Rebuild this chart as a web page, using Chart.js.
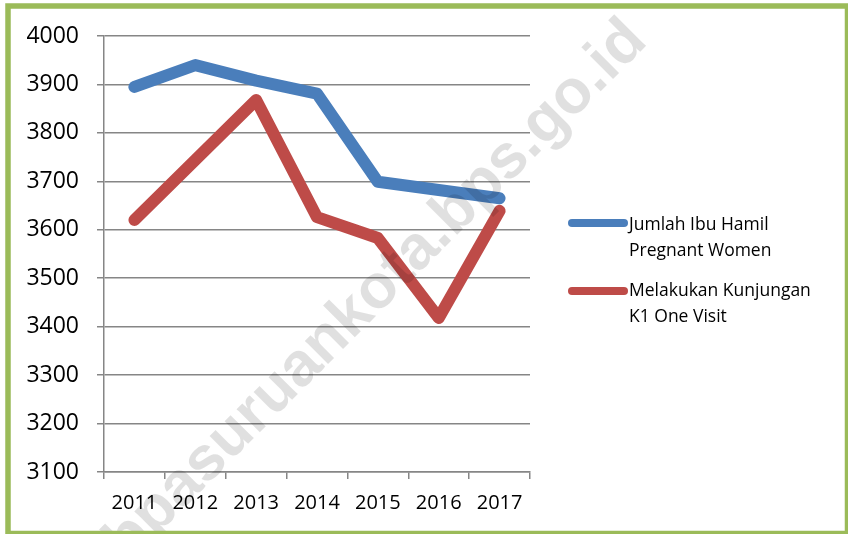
<!DOCTYPE html>
<html>
<head>
<meta charset="utf-8">
<script src="https://cdn.jsdelivr.net/npm/chart.js@4/dist/chart.umd.min.js"></script>
<style>
  html, body { margin: 0; padding: 0; background: #ffffff; }
  #wrap { position: relative; width: 848px; height: 534px; }
</style>
</head>
<body>
<div id="wrap"><canvas id="c" width="848" height="534"></canvas></div>
<script>
const categories = ['2011', '2012', '2013', '2014', '2015', '2016', '2017'];
const pregnantWomen = [3895, 3940, 3908, 3881, 3699, 3682, 3665];
const k1Visit = [3620, 3744, 3868, 3626, 3583, 3418, 3639];
const seriesLabels = [
  ['Jumlah Ibu Hamil', 'Pregnant Women'],
  ['Melakukan Kunjungan', 'K1 One Visit']
];
const yTicks = { min: 3100, max: 4000, step: 100 };
const watermarkHead = 'kabpasuruankota';
const watermarkTail = '.bps.go.id';

const COLORS = ['#4a7ebb', '#be4b48'];
const FONT = "'Open Sans', 'Noto Sans', sans-serif";

const framePlugin = {
  id: 'frame',
  beforeDraw(chart) {
    const ctx = chart.ctx;
    ctx.save();
    ctx.fillStyle = '#ffffff';
    ctx.fillRect(0, 0, chart.width, chart.height);
    ctx.restore();
  },
  afterDraw(chart) {
    const ctx = chart.ctx;
    // custom legend (two-line labels)
    ctx.save();
    const items = [
      { lineY: 223, baselines: [230, 256] },
      { lineY: 291, baselines: [296, 322] }
    ];
    chart.data.datasets.forEach((ds, i) => {
      const it = items[i];
      ctx.strokeStyle = ds.borderColor;
      ctx.lineWidth = 8;
      ctx.lineCap = 'round';
      ctx.beginPath();
      ctx.moveTo(572, it.lineY);
      ctx.lineTo(624, it.lineY);
      ctx.stroke();
      ctx.fillStyle = '#000000';
      ctx.font = '17.5px ' + FONT;
      ctx.textAlign = 'left';
      ctx.textBaseline = 'alphabetic';
      seriesLabels[i].forEach((t, j) => ctx.fillText(t, 629, it.baselines[j]));
    });
    ctx.restore();

    // watermark
    ctx.save();
    ctx.font = 'bold 62px "Liberation Sans", Arial, sans-serif';
    const headW = ctx.measureText(watermarkHead).width;
    ctx.translate(442, 250);
    ctx.rotate(-45 * Math.PI / 180);
    ctx.fillStyle = 'rgba(0,0,0,0.12)';
    ctx.textAlign = 'left';
    ctx.textBaseline = 'alphabetic';
    ctx.fillText(watermarkHead + watermarkTail, -headW, 0);
    ctx.restore();

    // green frame
    ctx.save();
    ctx.strokeStyle = '#9bbb59';
    ctx.lineWidth = 5.5;
    ctx.strokeRect(8, 6, 839.5, 527.5);
    ctx.restore();
  }
};

new Chart(document.getElementById('c'), {
  type: 'line',
  data: {
    labels: categories,
    datasets: [
      {
        label: seriesLabels[0].join(' '),
        data: pregnantWomen,
        borderColor: COLORS[0],
        backgroundColor: COLORS[0],
        borderWidth: 12,
        borderCapStyle: 'round',
        borderJoinStyle: 'round',
        pointRadius: 0,
        tension: 0
      },
      {
        label: seriesLabels[1].join(' '),
        data: k1Visit,
        borderColor: COLORS[1],
        backgroundColor: COLORS[1],
        borderWidth: 12,
        borderCapStyle: 'round',
        borderJoinStyle: 'round',
        pointRadius: 0,
        tension: 0
      }
    ]
  },
  options: {
    responsive: false,
    animation: false,
    devicePixelRatio: 1,
    layout: { padding: { top: 36, right: 318, bottom: 7, left: 0 } },
    plugins: {
      legend: { display: false },
      tooltip: { enabled: false }
    },
    scales: {
      x: {
        offset: true,
        grid: {
          offset: true,
          drawOnChartArea: false,
          drawTicks: true,
          tickLength: 7,
          color: '#868686',
          lineWidth: 1.5
        },
        border: { display: true, color: '#868686', width: 1.5 },
        ticks: {
          color: '#000000',
          font: { family: FONT, size: 20 },
          padding: 12,
          maxRotation: 0,
          autoSkip: false
        }
      },
      y: {
        min: yTicks.min,
        max: yTicks.max,
        afterFit(scale) { scale.width = 104; },
        grid: {
          drawTicks: true,
          tickLength: 7,
          color: '#868686',
          lineWidth: 1.5
        },
        border: { display: true, color: '#868686', width: 1.5 },
        ticks: {
          stepSize: yTicks.step,
          color: '#000000',
          font: { family: FONT, size: 23 },
          padding: 18,
          callback: (v) => String(v)
        }
      }
    }
  },
  plugins: [framePlugin]
});
</script>
</body>
</html>
